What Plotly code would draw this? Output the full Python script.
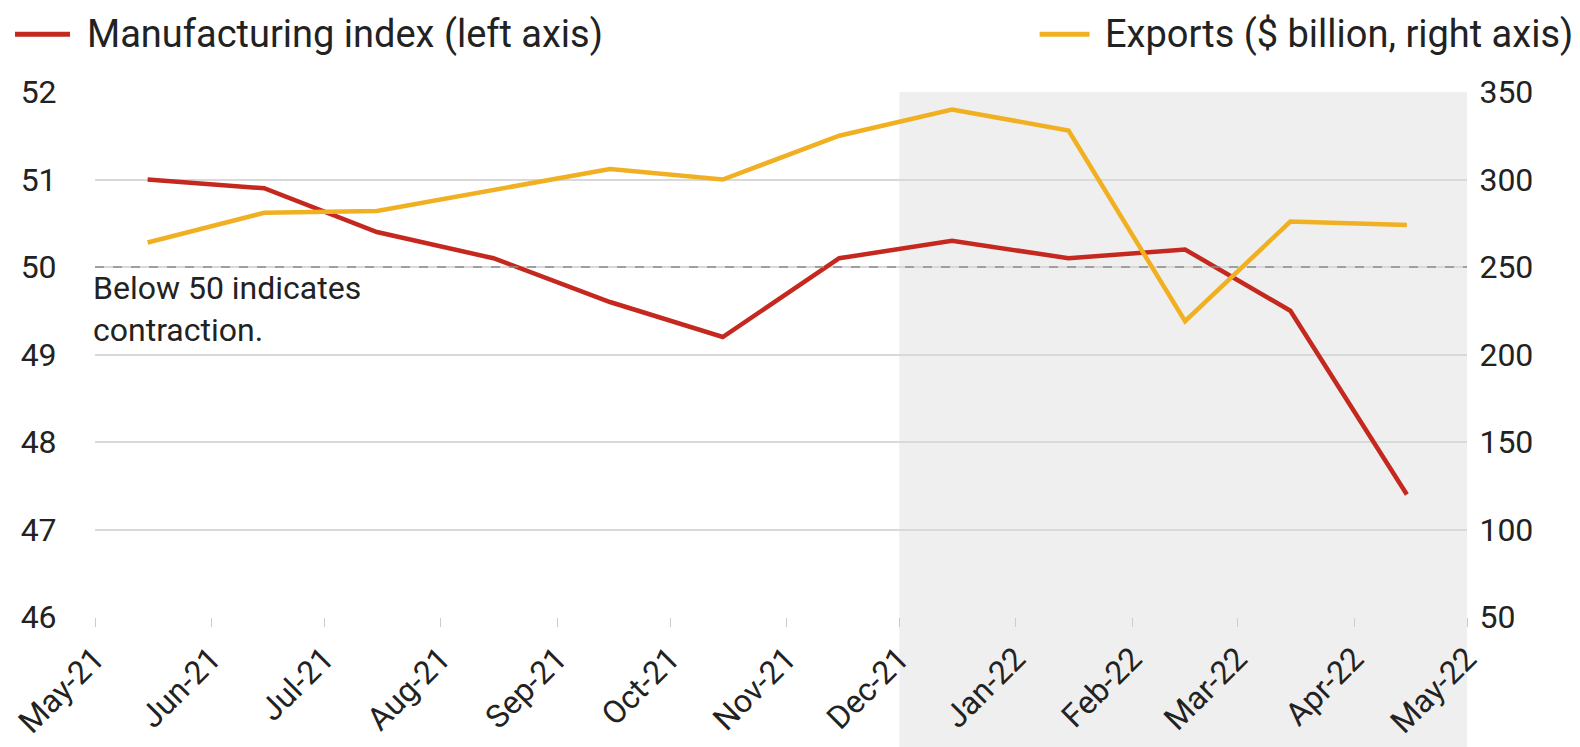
import plotly.graph_objects as go

months = ["2021-05-15", "2021-06-15", "2021-07-15", "2021-08-15", "2021-09-15", "2021-10-15",
          "2021-11-15", "2021-12-15", "2022-01-15", "2022-02-15", "2022-03-15", "2022-04-15"]
manufacturing = [51.0, 50.9, 50.4, 50.1, 49.6, 49.2, 50.1, 50.3, 50.1, 50.2, 49.5, 47.4]
exports = [264, 281, 282, 294, 306, 300, 325, 340, 328, 219, 276, 274]

tick_dates = ["2021-05-01", "2021-06-01", "2021-07-01", "2021-08-01", "2021-09-01", "2021-10-01",
              "2021-11-01", "2021-12-01", "2022-01-01", "2022-02-01", "2022-03-01", "2022-04-01",
              "2022-05-01"]
tick_labels = ["May-21", "Jun-21", "Jul-21", "Aug-21", "Sep-21", "Oct-21", "Nov-21", "Dec-21",
               "Jan-22", "Feb-22", "Mar-22", "Apr-22", "May-22"]

left_ticks = [46, 47, 48, 49, 50, 51, 52]
right_ticks = [50, 100, 150, 200, 250, 300, 350]

series_names = ["Manufacturing index (left axis)", "Exports ($ billion, right axis)"]

shade_start, shade_end = "2021-12-01", "2022-05-01"

RED = "#C4281E"
GOLD = "#F0B021"
FONT = "Roboto"
TXT = "#222222"

fig = go.Figure()
fig.add_trace(go.Scatter(x=months, y=manufacturing, mode="lines", name=series_names[0],
                         line=dict(color=RED, width=4.5)))
fig.add_trace(go.Scatter(x=months, y=exports, mode="lines", name=series_names[1],
                         line=dict(color=GOLD, width=4.5), yaxis="y2"))

fig.add_shape(type="rect", xref="x", yref="paper", x0=shade_start, x1=shade_end, y0=-0.3, y1=1.0,
              fillcolor="#EFEFEF", line=dict(width=0), layer="below")
fig.add_shape(type="line", xref="paper", yref="y", x0=0, x1=1, y0=50, y1=50,
              line=dict(color="#8C8C8C", width=1.5, dash="dash"))

fig.add_annotation(xref="paper", yref="y", x=-0.003, y=50.0, xanchor="left", yanchor="top",
                   text="Below 50 indicates<br>contraction.", showarrow=False, align="left",
                   font=dict(family=FONT, size=32, color=TXT))

# Legend (drawn as key lines + labels placed as in the original)
leg_y = 1.11
for (lx0, lx1, tx, name, col) in [(-0.0583, -0.0182, -0.0073, series_names[0], RED),
                                  (0.6885, 0.7249, 0.7344, series_names[1], GOLD)]:
    fig.add_shape(type="line", xref="paper", yref="paper", x0=lx0, x1=lx1, y0=leg_y, y1=leg_y,
                  line=dict(color=col, width=5))
    fig.add_annotation(xref="paper", yref="paper", x=tx, y=leg_y, xanchor="left", yanchor="middle",
                       text=name, showarrow=False, font=dict(family=FONT, size=38, color=TXT))

fig.update_layout(
    width=1580, height=747,
    margin=dict(l=87, r=121, t=84, b=138, autoexpand=False),
    paper_bgcolor="white", plot_bgcolor="rgba(0,0,0,0)",
    font=dict(family=FONT, size=32, color=TXT),
    showlegend=False,
    xaxis=dict(type="date", range=["2021-05-01", "2022-05-01"], tickvals=tick_dates, ticktext=tick_labels,
               tickangle=-45, showgrid=False, ticks="outside", ticklen=9, tickcolor="#CCCCCC",
               showline=False, zeroline=False, tickfont=dict(size=32)),
    yaxis=dict(range=[46, 52], tickvals=left_ticks, showgrid=True, gridcolor="#D9D9D9", gridwidth=2,
               zeroline=False, ticks="outside", ticklen=31, tickcolor="rgba(0,0,0,0)", tickfont=dict(size=32)),
    yaxis2=dict(range=[50, 350], tickvals=right_ticks, overlaying="y", side="right", showgrid=False,
                zeroline=False, ticks="outside", ticklen=5, tickcolor="rgba(0,0,0,0)", tickfont=dict(size=32)),
)

fig.write_html("out.html")
